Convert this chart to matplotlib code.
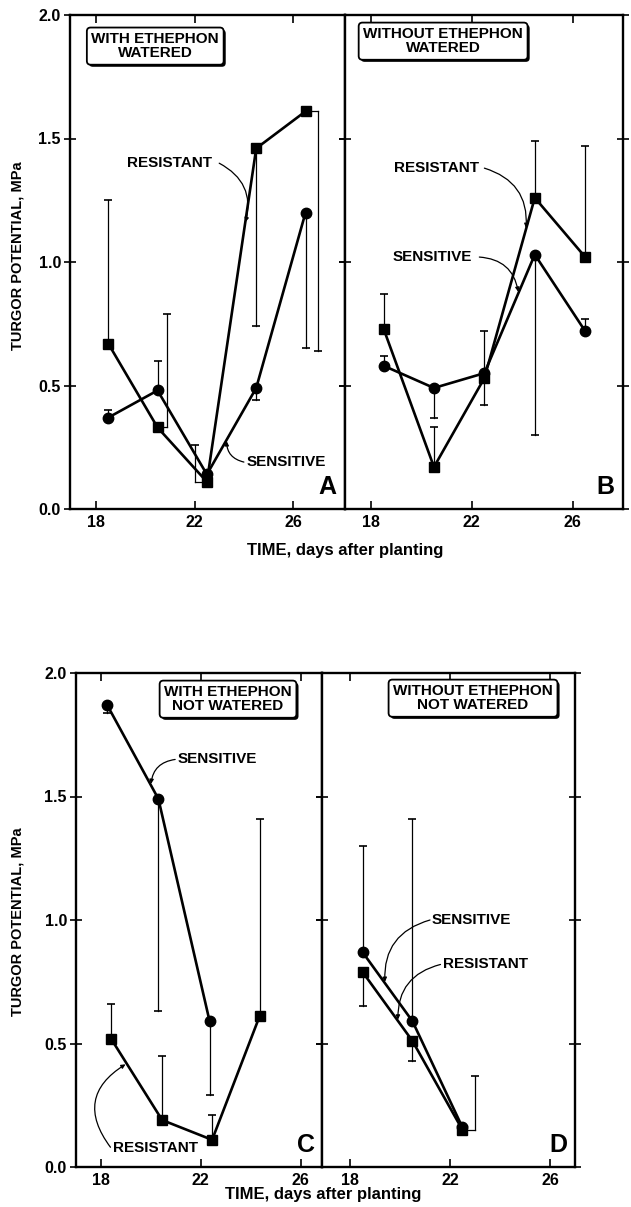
import numpy as np
import matplotlib
matplotlib.use("Agg")
import matplotlib.pyplot as plt
import matplotlib.patheffects as pe

plt.rcParams["font.family"] = ["Liberation Sans", "DejaVu Sans"]
plt.rcParams["font.weight"] = "bold"

nan = np.nan

# Panel A: with ethephon, watered
A_x = [18.5, 20.5, 22.5, 24.5, 26.5]
A_res = [0.67, 0.33, 0.11, 1.46, 1.61]
A_sen = [0.37, 0.48, 0.14, 0.49, 1.20]
A_res_bar = [1.25, 0.79, 0.26, 0.74, 0.64]
A_res_barx = [18.5, 20.9, 22.0, 24.5, 27.0]
A_sen_bar = [0.40, 0.60, nan, 0.44, 0.65]

# Panel B: without ethephon, watered
B_x = [18.5, 20.5, 22.5, 24.5, 26.5]
B_res = [0.73, 0.17, 0.53, 1.26, 1.02]
B_sen = [0.58, 0.49, 0.55, 1.03, 0.72]
B_res_bar = [0.87, 0.33, 0.72, 1.49, 1.47]
B_sen_bar = [0.62, 0.37, 0.42, 0.30, 0.77]

# Panel C: with ethephon, not watered
C_res_x = [18.4, 20.45, 22.45, 24.35]
C_res = [0.52, 0.19, 0.11, 0.61]
C_res_bar = [0.66, 0.45, 0.21, 1.41]
C_sen_x = [18.25, 20.3, 22.35]
C_sen = [1.87, 1.49, 0.59]
C_sen_bar = [1.84, 0.63, 0.29]

# Panel D: without ethephon, not watered
D_x = [18.5, 20.5, 22.5]
D_sen = [0.87, 0.59, 0.16]
D_res = [0.79, 0.51, 0.15]
D_sen_bar = [1.30, 1.41, nan]
D_res_bar = [0.65, 0.43, 0.37]
D_res_barx = [18.5, 20.5, 23.0]

xticks = [18, 22, 26]
yticks = [0.0, 0.5, 1.0, 1.5, 2.0]
ytick_labels = ["0.0", "0.5", "1.0", "1.5", "2.0"]


def draw_series(ax, x, y, marker, ms, bar_end, bar_x=None):
    if bar_x is None:
        bar_x = x
    ax.plot(x, y, color="black", lw=1.9, marker=marker, ms=ms, zorder=3)
    for xi, yi, be, bx in zip(x, y, bar_end, bar_x):
        if np.isnan(be):
            continue
        if bx != xi:
            ax.plot([xi, bx], [yi, yi], color="black", lw=0.9, zorder=2)
        ax.plot([bx, bx], [yi, be], color="black", lw=0.9, zorder=2)
        ax.plot([bx], [be], marker="_", ms=6, mew=1.2, color="black", zorder=2)


def setup(ax, xlim, show_y):
    ax.set_xlim(*xlim)
    ax.set_ylim(0, 2.0)
    ax.set_xticks(xticks)
    ax.set_yticks(yticks)
    ax.tick_params(axis="x", direction="in", top=True, length=6, width=1.2,
                   labelsize=11.5, pad=4)
    ax.tick_params(axis="y", direction="inout", right=True, length=9, width=1.2,
                   labelsize=11.5, pad=2)
    if show_y:
        ax.set_yticklabels(ytick_labels)
    else:
        ax.set_yticklabels([])
    for s in ax.spines.values():
        s.set_linewidth(1.7)


def box(ax, x, y, txt):
    t = ax.text(x, y, txt, transform=ax.transAxes, ha="center", va="center",
                fontsize=11, linespacing=1.0,
                bbox=dict(boxstyle="round,pad=0.3,rounding_size=0.25",
                          fc="white", ec="black", lw=1.3))
    t.get_bbox_patch().set_path_effects([
        pe.SimplePatchShadow(offset=(1.5, -1.5), shadow_rgbFace="black", alpha=1),
        pe.Normal()])


def label(ax, txt, text_xy, start, tip_x, xs, ys, rad):
    tip_y = np.interp(tip_x, xs, ys)
    ax.text(text_xy[0], text_xy[1], txt, ha="left", va="center", fontsize=11)
    ax.annotate("", xy=(tip_x, tip_y), xytext=start,
                arrowprops=dict(arrowstyle="-|>", color="black", lw=0.9,
                                mutation_scale=6, shrinkA=0, shrinkB=1,
                                connectionstyle=f"arc3,rad={rad}"))


def letter(ax, txt):
    ax.text(0.97, 0.02, txt, transform=ax.transAxes, ha="right", va="bottom",
            fontsize=18, fontweight="bold")


fig = plt.figure(figsize=(6.31, 12.07), dpi=100)
H = 1207.0
W = 631.0

axA = fig.add_axes([70 / W, 1 - 509 / H, 275 / W, 494 / H])
axB = fig.add_axes([345 / W, 1 - 509 / H, 278 / W, 494 / H])
axC = fig.add_axes([76 / W, 1 - 1167 / H, 246 / W, 494 / H])
axD = fig.add_axes([322 / W, 1 - 1167 / H, 253 / W, 494 / H])

# A
setup(axA, (16.95, 28.1), True)
draw_series(axA, A_x, A_res, "s", 7, A_res_bar, A_res_barx)
draw_series(axA, A_x, A_sen, "o", 7.5, A_sen_bar)
box(axA, 0.31, 0.937, "WITH ETHEPHON\nWATERED")
label(axA, "RESISTANT", (19.25, 1.40), (23.0, 1.40), 24.05, A_x, A_res, -0.4)
label(axA, "SENSITIVE", (24.1, 0.19), (24.0, 0.19), 23.3, A_x, A_sen, -0.4)
letter(axA, "A")

# B
setup(axB, (16.97, 28.0), False)
draw_series(axB, B_x, B_res, "s", 7, B_res_bar)
draw_series(axB, B_x, B_sen, "o", 7.5, B_sen_bar)
box(axB, 0.353, 0.947, "WITHOUT ETHEPHON\nWATERED")
label(axB, "RESISTANT", (18.9, 1.38), (22.5, 1.38), 24.15, B_x, B_res, -0.4)
label(axB, "SENSITIVE", (18.85, 1.02), (22.3, 1.02), 23.85, B_x, B_sen, -0.4)
letter(axB, "B")

# C
setup(axC, (17.0, 26.85), True)
draw_series(axC, C_res_x, C_res, "s", 7, C_res_bar)
draw_series(axC, C_sen_x, C_sen, "o", 7.5, C_sen_bar)
box(axC, 0.618, 0.947, "WITH ETHEPHON\nNOT WATERED")
label(axC, "SENSITIVE", (21.05, 1.65), (20.97, 1.65), 20.0, C_sen_x, C_sen, 0.4)
label(axC, "RESISTANT", (18.48, 0.077), (18.38, 0.08), 19.03, C_res_x, C_res, -0.55)
letter(axC, "C")

# D
setup(axD, (16.88, 27.0), False)
draw_series(axD, D_x, D_sen, "o", 7.5, D_sen_bar)
draw_series(axD, D_x, D_res, "s", 7, D_res_bar, D_res_barx)
box(axD, 0.597, 0.949, "WITHOUT ETHEPHON\nNOT WATERED")
label(axD, "SENSITIVE", (21.28, 1.0), (21.2, 1.0), 19.4, D_x, D_sen, 0.4)
label(axD, "RESISTANT", (21.72, 0.82), (21.62, 0.82), 19.92, D_x, D_res, 0.4)
letter(axD, "D")

fig.text(18 / W, 1 - 256 / H, "TURGOR POTENTIAL, MPa", rotation=90,
         ha="center", va="center", fontsize=10.5)
fig.text(18 / W, 1 - 922 / H, "TURGOR POTENTIAL, MPa", rotation=90,
         ha="center", va="center", fontsize=10.5)
fig.text(345 / W, 1 - 550 / H, "TIME, days after planting",
         ha="center", va="center", fontsize=12)
fig.text(323 / W, 1 - 1195 / H, "TIME, days after planting",
         ha="center", va="center", fontsize=12)

fig.savefig("out.png", dpi=100)
